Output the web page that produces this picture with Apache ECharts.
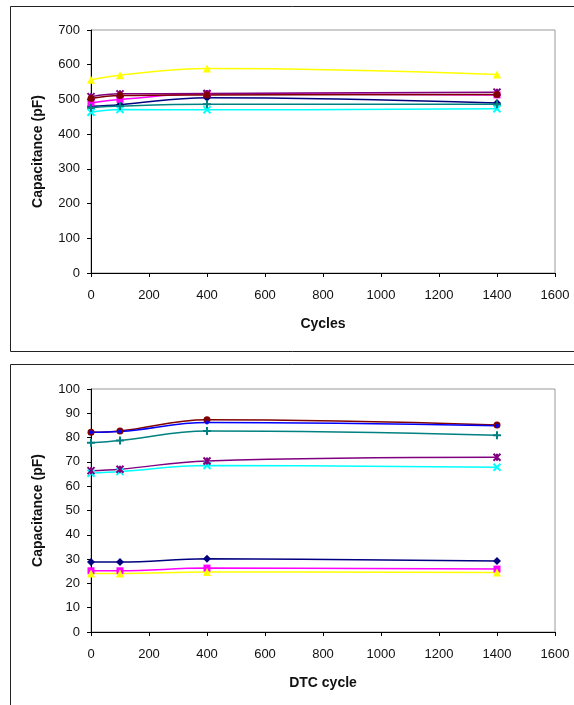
<!DOCTYPE html>
<html>
<head>
<meta charset="utf-8">
<script src="https://cdn.jsdelivr.net/npm/echarts@6/dist/echarts.min.js"></script>
<style>
  html, body { margin: 0; padding: 0; background: #fff; }
  #chart { width: 574px; height: 705px; }
</style>
</head>
<body>
<div id="chart"></div>
<script>
// x positions (cycles)
const cycles = [0, 100, 400, 1400];

// top panel: capacitance (pF) vs cycles
const topNavy    = [480, 485, 505, 490];
const topMagenta = [490, 500, 516, 513];
const topYellow  = [557, 570, 589, 572];
const topCyan    = [463, 471, 470, 473];
const topPurple  = [508, 516, 517, 521];
const topMaroon  = [503, 511, 513, 514];
const topTeal    = [476, 481, 486, 486];

// bottom panel: capacitance (pF) vs DTC cycle
const botNavy    = [28.8, 28.8, 30.1, 29.2];
const botMagenta = [25.2, 25.2, 26.3, 25.9];
const botYellow  = [24.1, 24.1, 24.7, 24.5];
const botCyan    = [65.3, 66.0, 68.5, 67.8];
const botPurple  = [66.4, 67.0, 70.4, 71.9];
const botMaroon  = [82.2, 82.7, 87.3, 85.2];
const botTeal    = [77.9, 78.8, 82.7, 81.0];
const botBlue    = [82.2, 82.5, 86.2, 84.9];

const SYM_X = 'path://M0,0L10,10M10,0L0,10';
const SYM_STAR = 'path://M0,0L10,10M10,0L0,10M5,0L5,10';
const SYM_PLUS = 'path://M5,0L5,10M0,5L10,5';

const styles = {
  navy:    { color: '#000080', symbol: 'diamond', size: 8 },
  magenta: { color: '#FF00FF', symbol: 'rect', size: 7 },
  yellow:  { color: '#FFFF00', symbol: 'triangle', size: 8 },
  cyan:    { color: '#00FFFF', symbol: SYM_X, size: 7, stroke: true },
  purple:  { color: '#800080', symbol: SYM_STAR, size: 7, stroke: true },
  maroon:  { color: '#800000', symbol: 'circle', size: 7 },
  teal:    { color: '#008080', symbol: SYM_PLUS, size: 8, stroke: true },
  blue:    { color: '#0000FF', symbol: 'circle', size: 4 }
};

function makeSeries(name, values, idx) {
  const s = styles[name];
  return {
    type: 'line',
    name: name,
    xAxisIndex: idx,
    yAxisIndex: idx,
    smooth: 0.4,
    data: cycles.map((c, i) => [c, values[i]]),
    symbol: s.symbol,
    symbolSize: s.size,
    lineStyle: { color: s.color, width: 1.5 },
    itemStyle: s.stroke
      ? { color: 'rgba(0,0,0,0)', borderColor: s.color, borderWidth: 2 }
      : { color: s.color, borderWidth: 0 },
    animation: false
  };
}

const labelFont = { fontFamily: 'Liberation Sans', fontSize: 13, color: '#111' };
const titleFont = { fontFamily: 'Liberation Sans', fontSize: 14, fontWeight: 'bold', color: '#111' };

function xAxis(idx, title) {
  return {
    type: 'value', gridIndex: idx, min: 0, max: 1600, interval: 200,
    name: title, nameLocation: 'middle', nameGap: 44, nameTextStyle: titleFont,
    axisLine: { show: true, lineStyle: { color: '#000', width: 1 } },
    axisTick: { show: true, length: 4, lineStyle: { color: '#000' } },
    axisLabel: Object.assign({ margin: 16, formatter: v => String(v) }, labelFont),
    splitLine: { show: false }
  };
}

function yAxis(idx, max, interval) {
  return {
    type: 'value', gridIndex: idx, min: 0, max: max, interval: interval,
    name: 'Capacitance (pF)', nameLocation: 'middle', nameGap: 46, nameTextStyle: titleFont,
    axisLine: { show: true, lineStyle: { color: '#000', width: 1 } },
    axisTick: { show: true, length: 4, lineStyle: { color: '#000' } },
    axisLabel: Object.assign({ margin: 11, formatter: v => String(v) }, labelFont),
    splitLine: { show: false }
  };
}

const chart = echarts.init(document.getElementById('chart'));

const option = {
  backgroundColor: '#fff',
  animation: false,
  graphic: [
    { type: 'rect', shape: { x: 10.5, y: 6.5, width: 580, height: 345 }, style: { fill: 'none', stroke: '#222', lineWidth: 1 } },
    { type: 'rect', shape: { x: 10.5, y: 364.5, width: 580, height: 360 }, style: { fill: 'none', stroke: '#222', lineWidth: 1 } }
  ],
  grid: [
    { left: 91, right: 19, top: 30, height: 243, show: true, borderColor: '#999', borderWidth: 1, backgroundColor: 'transparent' },
    { left: 91, right: 19, top: 389, height: 243, show: true, borderColor: '#999', borderWidth: 1, backgroundColor: 'transparent' }
  ],
  xAxis: [xAxis(0, 'Cycles'), xAxis(1, 'DTC cycle')],
  yAxis: [yAxis(0, 700, 100), yAxis(1, 100, 10)],
  series: [
    makeSeries('navy', topNavy, 0),
    makeSeries('magenta', topMagenta, 0),
    makeSeries('yellow', topYellow, 0),
    makeSeries('cyan', topCyan, 0),
    makeSeries('purple', topPurple, 0),
    makeSeries('maroon', topMaroon, 0),
    makeSeries('teal', topTeal, 0),
    makeSeries('navy', botNavy, 1),
    makeSeries('magenta', botMagenta, 1),
    makeSeries('yellow', botYellow, 1),
    makeSeries('cyan', botCyan, 1),
    makeSeries('purple', botPurple, 1),
    makeSeries('maroon', botMaroon, 1),
    makeSeries('teal', botTeal, 1),
    makeSeries('blue', botBlue, 1)
  ]
};

chart.setOption(option);
</script>
</body>
</html>
